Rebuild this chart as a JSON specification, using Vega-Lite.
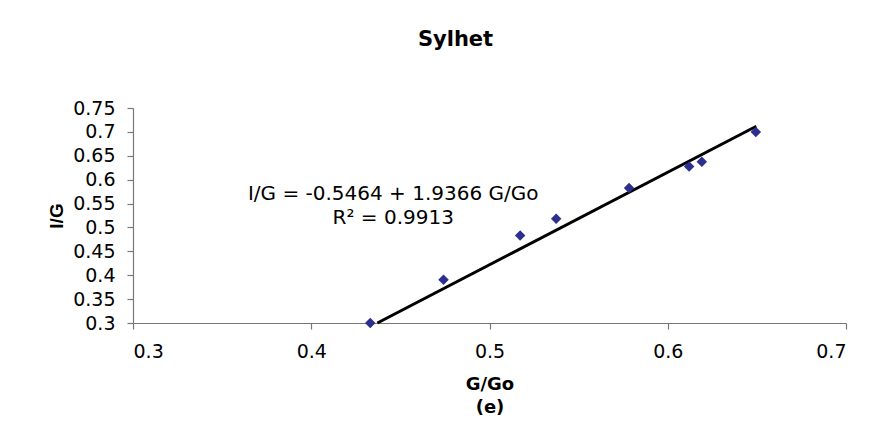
{
  "$schema": "https://vega.github.io/schema/vega-lite/v6.json",
  "width": 713,
  "height": 215,
  "autosize": {"type": "none"},
  "padding": {"left": 133, "top": 108, "right": 44, "bottom": 125},
  "background": "white",
  "title": {
    "text": "Sylhet",
    "font": "DejaVu Sans",
    "fontSize": 21,
    "fontWeight": "bold",
    "color": "black",
    "anchor": "middle",
    "frame": "group",
    "dx": -34,
    "baseline": "alphabetic",
    "offset": 32
  },
  "datasets": {
    "points": [
      {"GGo": 0.4331, "IG": 0.300},
      {"GGo": 0.4742, "IG": 0.3906},
      {"GGo": 0.5172, "IG": 0.4833},
      {"GGo": 0.5374, "IG": 0.5182},
      {"GGo": 0.5783, "IG": 0.5824},
      {"GGo": 0.6120, "IG": 0.6276},
      {"GGo": 0.6191, "IG": 0.6375},
      {"GGo": 0.6494, "IG": 0.6996}
    ],
    "trend": [
      {"GGo": 0.4371, "IG": 0.300},
      {"GGo": 0.6497, "IG": 0.7118}
    ],
    "labels": [
      {"GGo": 0.446, "IG": 0.558, "label": "I/G = -0.5464 + 1.9366 G/Go"},
      {"GGo": 0.446, "IG": 0.5077, "label": "R² = 0.9913"}
    ]
  },
  "encoding": {
    "x": {
      "field": "GGo",
      "type": "quantitative",
      "scale": {"domain": [0.3, 0.7], "nice": false, "zero": false},
      "axis": {
        "title": ["G/Go", "(e)"],
        "values": [0.3, 0.4, 0.5, 0.6, 0.7],
        "format": "~g",
        "titleFont": "DejaVu Sans",
        "titleFontSize": 18,
        "titleFontWeight": "bold",
        "titleColor": "black",
        "titleLineHeight": 23,
        "titlePadding": 14,
        "labelPadding": 13
      }
    },
    "y": {
      "field": "IG",
      "type": "quantitative",
      "scale": {"domain": [0.3, 0.75], "nice": false, "zero": false},
      "axis": {
        "title": "I/G",
        "values": [0.3, 0.35, 0.4, 0.45, 0.5, 0.55, 0.6, 0.65, 0.7, 0.75],
        "format": "~g",
        "titleFont": "Liberation Sans",
        "titleFontSize": 19,
        "titleFontWeight": "bold",
        "titleColor": "black",
        "titlePadding": 6,
        "labelPadding": 12
      }
    }
  },
  "layer": [
    {
      "data": {"name": "trend"},
      "mark": {"type": "line", "color": "black", "strokeWidth": 3, "clip": false}
    },
    {
      "data": {"name": "points"},
      "mark": {"type": "point", "shape": "diamond", "filled": true, "color": "#2d2f8e", "opacity": 1, "size": 110}
    },
    {
      "data": {"name": "labels"},
      "mark": {"type": "text", "font": "DejaVu Sans", "fontSize": 20, "color": "black", "align": "center", "baseline": "alphabetic"},
      "encoding": {"text": {"field": "label"}}
    }
  ],
  "config": {
    "view": {"stroke": null},
    "axis": {
      "grid": false,
      "domainColor": "#777777",
      "domainWidth": 1.2,
      "tickColor": "#777777",
      "tickWidth": 1.2,
      "tickSize": 6,
      "labelFont": "DejaVu Sans",
      "labelFontSize": 19,
      "labelColor": "black"
    }
  }
}
